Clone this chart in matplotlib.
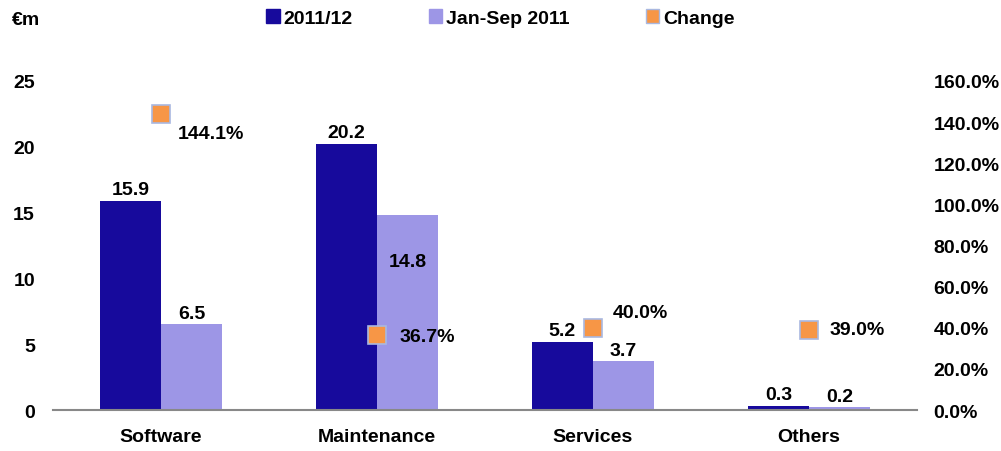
import numpy as np
import matplotlib
matplotlib.use("Agg")
import matplotlib.pyplot as plt
from matplotlib.patches import Patch

plt.rcParams['font.family'] = ['Liberation Sans', 'DejaVu Sans']
plt.rcParams['font.weight'] = 'bold'
FS = 14

# data
categories = ['Software', 'Maintenance', 'Services', 'Others']
fy_2011_12 = [15.9, 20.2, 5.2, 0.3]
jan_sep_2011 = [6.5, 14.8, 3.7, 0.2]
change_pct = [144.1, 36.7, 40.0, 39.0]

dark = '#170A9C'
light = '#9D96E6'
orange = '#F79646'

fig = plt.figure(figsize=(10.01, 4.52), dpi=100)
ax = fig.add_axes([0.053, 0.0907, 0.863, 0.728])
ax2 = ax.twinx()

x = np.arange(len(categories))
w = 0.283
ax.bar(x - w / 2, fy_2011_12, w, color=dark)
ax.bar(x + w / 2, jan_sep_2011, w, color=light)

ax.set_xlim(-0.5, 3.5)
ax.set_ylim(0, 25)
ax2.set_ylim(0, 160)
ax.set_yticks(range(0, 26, 5))
ax2.set_yticks(range(0, 161, 20))
ax2.set_yticklabels([f'{v:.1f}%' for v in range(0, 161, 20)])
ax.set_xticks(x)
ax.set_xticklabels(categories)

for a in (ax, ax2):
    for s in ['top', 'left', 'right', 'bottom']:
        a.spines[s].set_visible(False)
    a.tick_params(length=0, labelsize=FS)
ax.spines['bottom'].set_visible(True)
ax.spines['bottom'].set_color('#888888')
ax.spines['bottom'].set_linewidth(1.5)
ax.tick_params(axis='y', pad=13)
ax.tick_params(axis='x', pad=13)
ax2.tick_params(axis='y', pad=12)
ax2.set_zorder(ax.get_zorder() + 1)
ax2.patch.set_visible(False)

# bar labels
for i, v in enumerate(fy_2011_12):
    ax.annotate(f'{v:.1f}', (x[i] - w / 2, v), xytext=(0, 2), textcoords='offset points',
                ha='center', va='bottom', fontsize=FS, fontweight='bold')
for i, v in enumerate(jan_sep_2011):
    if categories[i] == 'Maintenance':
        ax.annotate(f'{v:.1f}', (x[i] + w / 2, v), xytext=(0, -33), textcoords='offset points',
                    ha='center', va='center', fontsize=FS, fontweight='bold')
    else:
        ax.annotate(f'{v:.1f}', (x[i] + w / 2, v), xytext=(0, 2), textcoords='offset points',
                    ha='center', va='bottom', fontsize=FS, fontweight='bold')

# change markers
ax2.plot(x, change_pct, linestyle='none', marker='s', markersize=12.5,
         markerfacecolor=orange, markeredgecolor='#A9B8E0', markeredgewidth=1.2)
offsets = [(12, -14), (16, -1.5), (14, 11), (14.5, 0)]
for i, v in enumerate(change_pct):
    ax2.annotate(f'{v:.1f}%', (x[i], v), xytext=offsets[i], textcoords='offset points',
                 ha='left', va='center', fontsize=FS, fontweight='bold')

fig.text(0.012, 0.955, '€m', fontsize=FS, fontweight='bold', va='center')

handles = [Patch(color=dark), Patch(color=light),
           Patch(facecolor=orange, edgecolor='#A9B8E0')]
fig.legend(handles, ['2011/12', 'Jan-Sep 2011', 'Change'], loc='center',
           bbox_to_anchor=(0.5, 0.958), ncol=3, frameon=False, fontsize=FS,
           handlelength=0.7, handleheight=0.7, handletextpad=0.2, columnspacing=3.9)

fig.savefig('out.png', dpi=100)
